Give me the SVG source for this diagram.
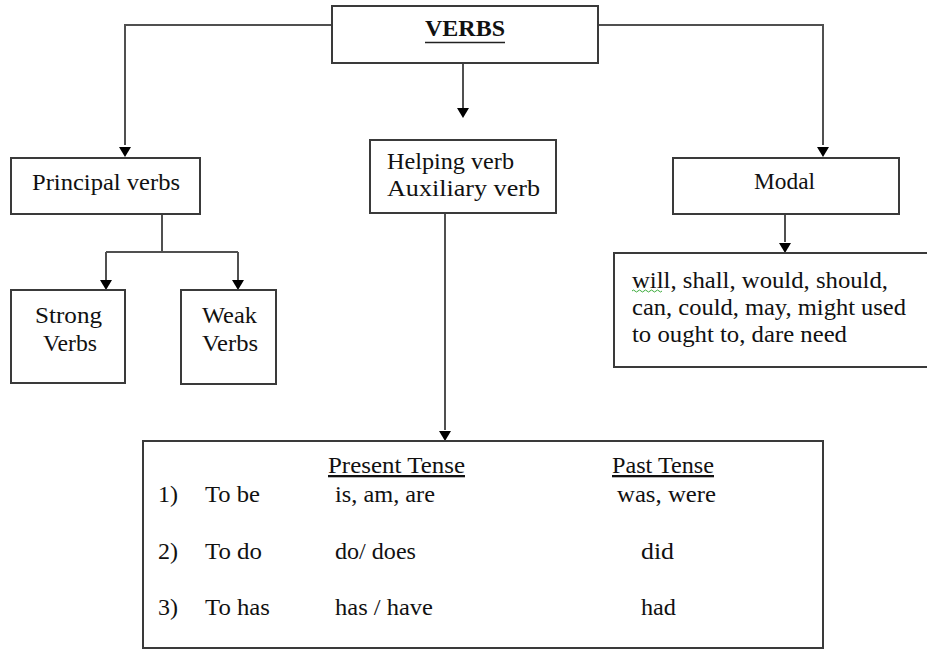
<svg xmlns="http://www.w3.org/2000/svg" width="927" height="653" viewBox="0 0 927 653">
<style>
  .box { fill: #fff; stroke: #3a3a3a; stroke-width: 2; }
  .t { font-family: "Liberation Serif", "Times New Roman", serif; font-size: 23px; fill: #111; }
  .c { text-anchor: middle; }
  .b { font-weight: bold; }
  .u { text-decoration: underline; }
  .ln { fill: none; stroke: #505050; stroke-width: 2; }
</style>
<rect width="927" height="653" fill="#fff"/>

<g id="connectors">
  <path class="ln" d="M332,25 H125 V145"/>
  <path d="M119,147 L131,147 L125,157 Z" fill="#000"/>
  <path class="ln" d="M598,25 H823 V145"/>
  <path d="M817,147 L829,147 L823,157 Z" fill="#000"/>
  <path class="ln" d="M463,63 V108"/>
  <path d="M457,108 L469,108 L463,118 Z" fill="#000"/>
  <path class="ln" d="M162,214 V252 M106,252 H238 M106,252 V280 M238,252 V280"/>
  <path d="M100,280 L112,280 L106,290 Z" fill="#000"/>
  <path d="M232,280 L244,280 L238,290 Z" fill="#000"/>
  <path class="ln" d="M785,214 V242"/>
  <path d="M779,243 L791,243 L785,253 Z" fill="#000"/>
  <path class="ln" d="M445,213 V430"/>
  <path d="M439,431 L451,431 L445,441 Z" fill="#000"/>
</g>

<g id="verbs">
  <rect class="box" x="332" y="6" width="266" height="57"/>
  <text class="t b" x="425" y="36" font-size="24" textLength="80" lengthAdjust="spacingAndGlyphs">VERBS</text>
  <line x1="425" y1="42.5" x2="505" y2="42.5" stroke="#222" stroke-width="1.5"/>
</g>

<g id="principal">
  <rect class="box" x="11" y="158" width="189" height="56"/>
  <text class="t" x="32" y="190" font-size="24" textLength="148" lengthAdjust="spacingAndGlyphs">Principal verbs</text>
</g>

<g id="strong">
  <rect class="box" x="11" y="290" width="114" height="93"/>
  <text class="t" x="35" y="323" font-size="24" textLength="67" lengthAdjust="spacingAndGlyphs">Strong</text>
  <text class="t" x="43" y="351" font-size="24" textLength="54" lengthAdjust="spacingAndGlyphs">Verbs</text>
</g>

<g id="weak">
  <rect class="box" x="181" y="290" width="95" height="94"/>
  <text class="t" x="202" y="323" font-size="24" textLength="55" lengthAdjust="spacingAndGlyphs">Weak</text>
  <text class="t" x="202" y="351" font-size="24" textLength="56" lengthAdjust="spacingAndGlyphs">Verbs</text>
</g>

<g id="helping">
  <rect class="box" x="370" y="140" width="186" height="73"/>
  <text class="t" x="387" y="169" font-size="24" textLength="127" lengthAdjust="spacingAndGlyphs">Helping verb</text>
  <text class="t" x="387" y="196" font-size="24" textLength="153" lengthAdjust="spacingAndGlyphs">Auxiliary verb</text>
</g>

<g id="modal">
  <rect class="box" x="673" y="158" width="226" height="56"/>
  <text class="t" x="754" y="189" font-size="24" textLength="61" lengthAdjust="spacingAndGlyphs">Modal</text>
</g>

<g id="modal-list">
  <rect class="box" x="614" y="253" width="320" height="114"/>
  <text class="t" x="632" y="288" textLength="256" lengthAdjust="spacingAndGlyphs">will, shall, would, should,</text>
  <text class="t" x="632" y="315" textLength="274" lengthAdjust="spacingAndGlyphs">can, could, may, might used</text>
  <text class="t" x="632" y="342" textLength="215" lengthAdjust="spacingAndGlyphs">to ought to, dare need</text>
  <path d="M632,291 q1.5,-2 3,0 t3,0 t3,0 t3,0 t3,0 t3,0 t3,0 t3,0 t3,0 t3,0" fill="none" stroke="#3cab3c" stroke-width="1"/>
</g>

<g id="tenses">
  <rect class="box" x="143" y="441" width="680" height="207"/>
  <text class="t u" x="328" y="473" textLength="137" lengthAdjust="spacingAndGlyphs">Present  Tense</text>
  <text class="t u" x="612" y="473" textLength="102" lengthAdjust="spacingAndGlyphs">Past Tense</text>
  <text class="t" x="158" y="502" textLength="20" lengthAdjust="spacingAndGlyphs">1)</text>
  <text class="t" x="205" y="502" textLength="55" lengthAdjust="spacingAndGlyphs">To be</text>
  <text class="t" x="335" y="502" textLength="100" lengthAdjust="spacingAndGlyphs">is, am, are</text>
  <text class="t" x="617" y="502" textLength="99" lengthAdjust="spacingAndGlyphs">was, were</text>
  <text class="t" x="158" y="559" textLength="20" lengthAdjust="spacingAndGlyphs">2)</text>
  <text class="t" x="205" y="559" textLength="57" lengthAdjust="spacingAndGlyphs">To do</text>
  <text class="t" x="335" y="559" textLength="81" lengthAdjust="spacingAndGlyphs">do/ does</text>
  <text class="t" x="641" y="559" textLength="33" lengthAdjust="spacingAndGlyphs">did</text>
  <text class="t" x="158" y="615" textLength="20" lengthAdjust="spacingAndGlyphs">3)</text>
  <text class="t" x="205" y="615" textLength="65" lengthAdjust="spacingAndGlyphs">To has</text>
  <text class="t" x="335" y="615" textLength="98" lengthAdjust="spacingAndGlyphs">has / have</text>
  <text class="t" x="641" y="615" textLength="35" lengthAdjust="spacingAndGlyphs">had</text>
</g>
</svg>
